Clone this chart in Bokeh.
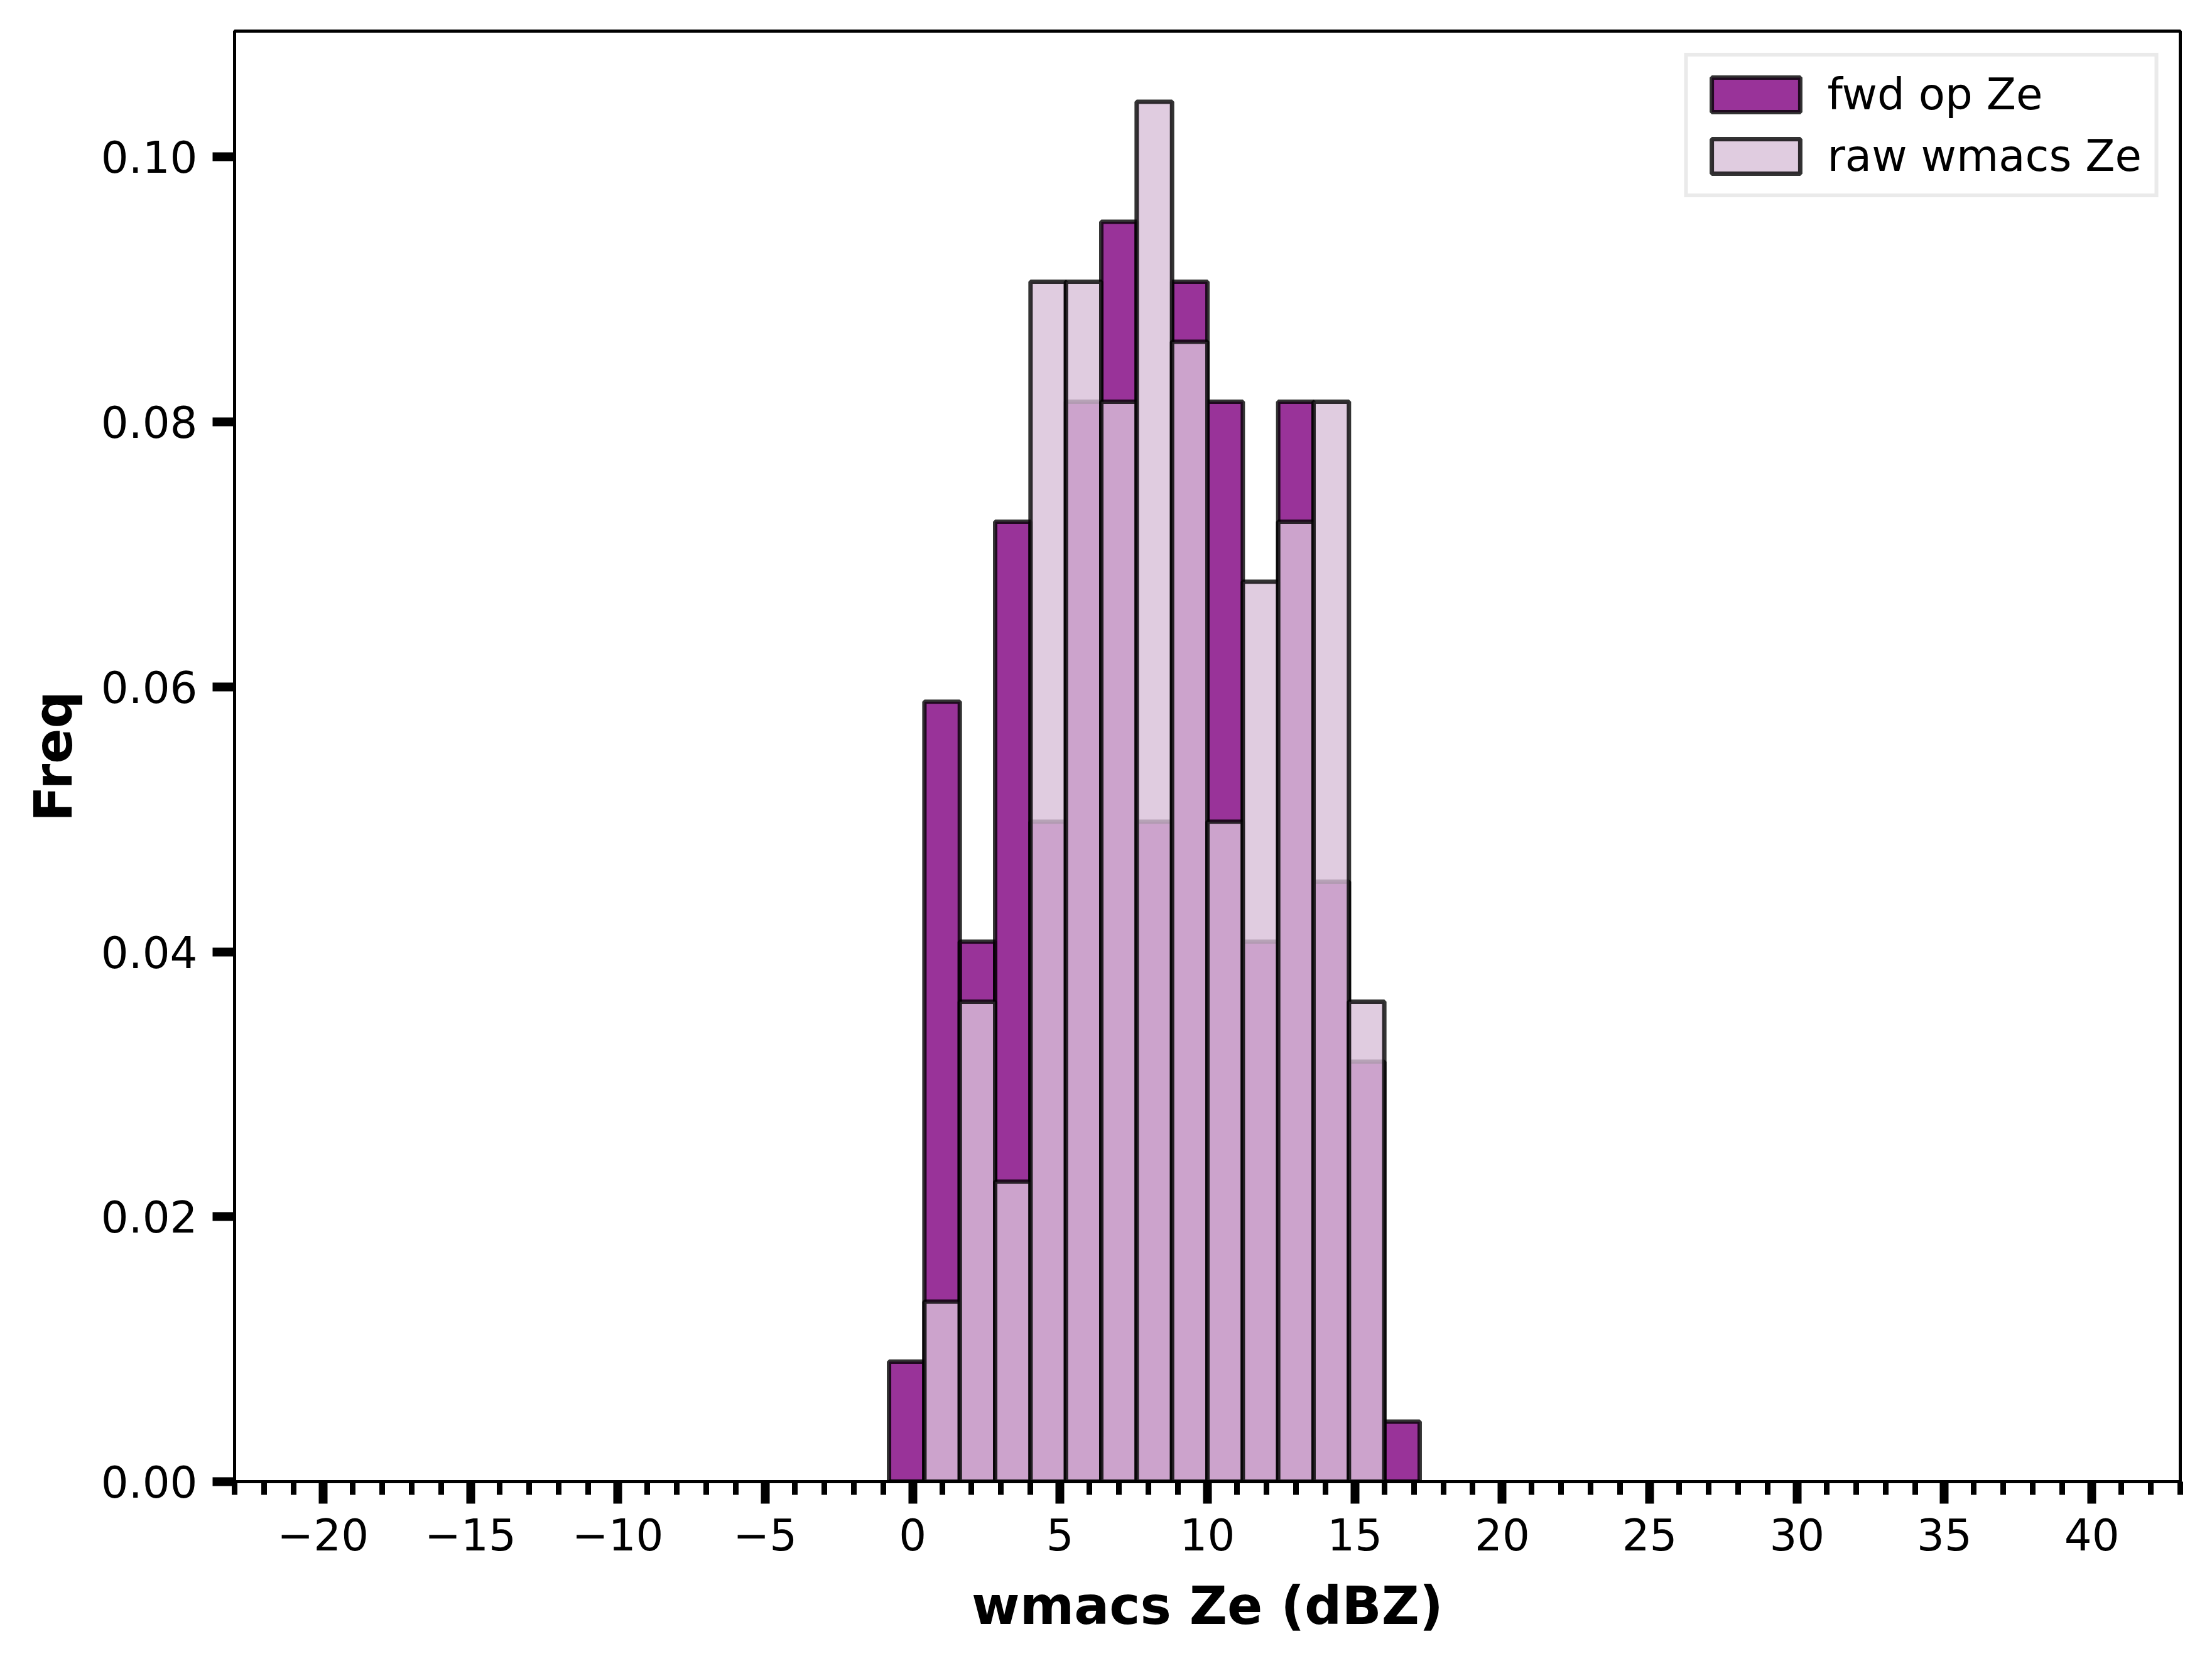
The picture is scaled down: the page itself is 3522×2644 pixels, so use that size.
import numpy as np
from bokeh.plotting import figure
from bokeh.models import FixedTicker, PrintfTickFormatter, Legend, LegendItem, Range1d
from bokeh.embed import file_html
from bokeh.resources import INLINE

# histogram bins (dBZ): 50 bins of 1.2 dBZ spanning -20..40; only the occupied ones listed
bin_lo = -0.8
bin_width = 1.2
# counts per bin starting at bin_lo (15 bins), N = 184 for both series
fwd_counts = [2, 13, 9, 16, 11, 18, 21, 11, 20, 18, 9, 18, 10, 7, 1]
raw_counts = [0, 3, 8, 5, 20, 20, 18, 23, 19, 11, 15, 16, 18, 8, 0]

x_ticks = list(range(-20, 45, 5))
x_minor = list(range(-23, 44))
y_ticks = [0.0, 0.02, 0.04, 0.06, 0.08, 0.10]

nb = len(fwd_counts)
left = np.array([bin_lo + i * bin_width for i in range(nb)])
right = left + bin_width
fwd = np.array(fwd_counts) / (sum(fwd_counts) * bin_width)
raw = np.array(raw_counts) / (sum(raw_counts) * bin_width)

FONT = "DejaVu Sans"

p = figure(width=3506, height=2628, output_backend="svg", toolbar_location=None,
           x_range=Range1d(-23.0, 43.0), y_range=Range1d(0, 0.1095),
           min_border_left=373, min_border_right=35, min_border_top=49, min_border_bottom=270)
p.background_fill_color = "white"
p.border_fill_color = "white"
p.xgrid.visible = False
p.ygrid.visible = False
p.outline_line_color = "black"
p.outline_line_width = 5
p.outline_line_alpha = 1

r1 = p.quad(left=left, right=right, bottom=0, top=fwd, fill_color="purple", fill_alpha=0.8,
            line_color="black", line_alpha=0.8, line_width=7)
r2 = p.quad(left=left, right=right, bottom=0, top=raw, fill_color="thistle", fill_alpha=0.8,
            line_color="black", line_alpha=0.8, line_width=7)

xa = p.xaxis[0]
xa.ticker = FixedTicker(ticks=x_ticks, minor_ticks=x_minor)
xa.major_label_overrides = {t: (("\u2212" + str(-t)) if t < 0 else str(t)) for t in x_ticks}
ya = p.yaxis[0]
ya.ticker = FixedTicker(ticks=y_ticks, minor_ticks=[])
ya.formatter = PrintfTickFormatter(format="%.2f")

for ax in (xa, ya):
    ax.axis_line_width = 5
    ax.axis_line_color = "black"
    ax.major_tick_line_width = 14
    ax.major_tick_out = 35
    ax.major_tick_in = 0
    ax.minor_tick_line_width = 9
    ax.minor_tick_out = 21
    ax.minor_tick_in = 0
    ax.major_label_text_font = FONT
    ax.major_label_text_font_size = "69px"
    ax.major_label_text_color = "black"
    ax.axis_label_text_font = FONT
    ax.axis_label_text_font_size = "83px"
    ax.axis_label_text_font_style = "bold"
    ax.axis_label_text_color = "black"

xa.axis_label = "wmacs Ze (dBZ)"
ya.axis_label = "Freq"
xa.major_label_standoff = 23
ya.major_label_standoff = 24
xa.axis_label_standoff = 37
ya.axis_label_standoff = 24

legend = Legend(items=[LegendItem(label="fwd op Ze", renderers=[r1]),
                       LegendItem(label="raw wmacs Ze", renderers=[r2])],
                location="top_right")
legend.margin = 35
legend.padding = 20
legend.spacing = 18
legend.glyph_width = 176
legend.glyph_height = 69
legend.label_standoff = 26
legend.label_text_font = FONT
legend.label_text_font_size = "69px"
legend.label_text_color = "black"
legend.border_line_color = "#d6d6d6"
legend.border_line_width = 6
legend.background_fill_color = "white"
legend.background_fill_alpha = 0.8
p.add_layout(legend)

open("out.html", "w").write(file_html(p, INLINE))
